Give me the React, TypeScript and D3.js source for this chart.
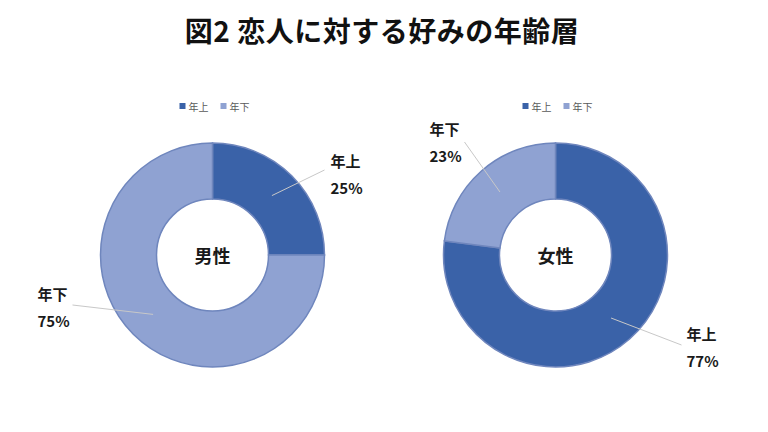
import * as d3 from "d3";

// カテゴリと値
const categories = ["年上", "年下"];
const maleValues = [25, 75];
const femaleValues = [77, 23];
const groups = ["男性", "女性"];
const colors = ["#3a62a8", "#8fa2d2"];
const title = "図2 恋人に対する好みの年齢層";

const W = 768;
const H = 432;
const font = "'Noto Sans CJK JP', 'Noto Sans', sans-serif";

// label placement, relative to donut center (line end, text x, text y)
const labelLayout = [
  [
    { ex: 112, ey: -85, tx: 118, ty: -95 },
    { ex: -140, ey: 50, tx: -175, ty: 38 },
  ],
  [
    { ex: 126, ey: 90, tx: 131, ty: 78 },
    { ex: -91, ey: -113, tx: -126, ty: -127 },
  ],
];

function Donut({ cx, cy, values, name, li }: { cx: number; cy: number; values: number[]; name: string; li: number }) {
  const rOuter = 112;
  const rInner = 56;
  const pie = d3.pie<number>().sort(null).value((d) => d);
  const arcs = pie(values);
  const arc = d3.arc<d3.PieArcDatum<number>>().innerRadius(rInner).outerRadius(rOuter);
  const total = d3.sum(values);
  const legendX = cx - 33;
  const legendY = 106 - cy;
  return (
    <g transform={`translate(${cx},${cy})`}>
      {arcs.map((a, i) => (
        <path key={i} d={arc(a) || ""} fill={colors[i]} stroke="#6f86bd" strokeWidth={1.5} />
      ))}
      {arcs.map((a, i) => {
        const [x0, y0] = arc.centroid(a);
        const l = labelLayout[li][i];
        return (
          <g key={"l" + i}>
            <line x1={x0} y1={y0} x2={l.ex} y2={l.ey} stroke="#c8c8c8" strokeWidth={1} />
            <text x={l.tx} y={l.ty} fontSize={15} fontWeight={700} fill="#1a1a1a" dominantBaseline="central" fontFamily={font}>
              {categories[i]}
            </text>
            <text x={l.tx} y={l.ty + 27} fontSize={15} fontWeight={700} fill="#1a1a1a" dominantBaseline="central" fontFamily={font}>
              {`${Math.round((values[i] / total) * 100)}%`}
            </text>
          </g>
        );
      })}
      <text x={0} y={0} textAnchor="middle" dominantBaseline="central" fontSize={18} fontWeight={700} fill="#1a1a1a" fontFamily={font}>
        {name}
      </text>
      <g transform={`translate(${legendX - cx},${legendY})`}>
        {categories.map((c, i) => (
          <g key={c} transform={`translate(${i * 41},0)`}>
            <rect x={0} y={-3} width={6} height={6} fill={colors[i]} />
            <text x={9} y={0} fontSize={10} fill="#595959" dominantBaseline="central" fontFamily={font}>
              {c}
            </text>
          </g>
        ))}
      </g>
    </g>
  );
}

export default function App() {
  return (
    <svg width={W} height={H} style={{ position: "absolute", left: 0, top: 0, background: "#fff" }}>
      <rect width={W} height={H} fill="#fff" />
      <text x={382} y={30} textAnchor="middle" dominantBaseline="central" fontSize={28} fontWeight={700} letterSpacing={0.5} fill="#111" fontFamily={font}>
        {title}
      </text>
      <Donut cx={212.5} cy={255} values={maleValues} name={groups[0]} li={0} />
      <Donut cx={555.5} cy={255} values={femaleValues} name={groups[1]} li={1} />
    </svg>
  );
}
